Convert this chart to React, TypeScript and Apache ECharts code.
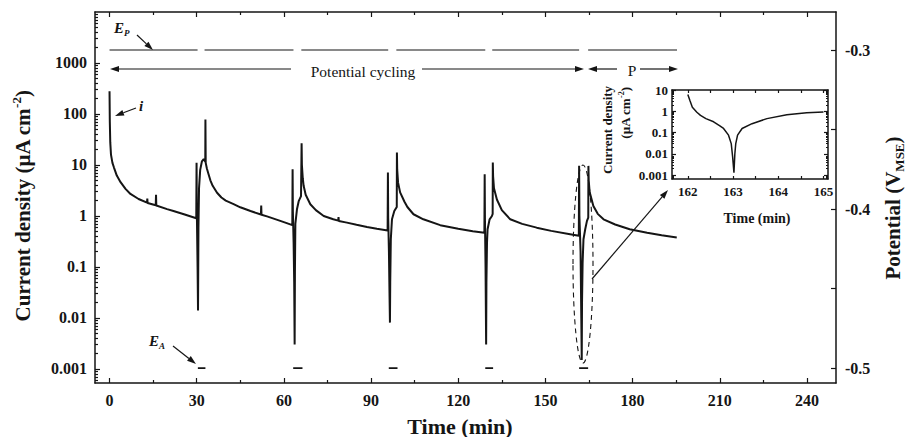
import React, { useEffect, useRef } from 'react';
import * as echarts from 'echarts';

// ---------- data ----------
const mainTime = [
  0.0, 0.1, 0.25, 0.5, 1.0, 1.5, 2.5, 3.8, 5.5, 7.2, 10.0, 12.9, 13.0, 13.1, 15.9, 16.0, 16.1,
  19.8, 22.0, 25.6, 29.85, 29.95, 30.05, 30.3, 30.45, 30.6, 30.8, 31.2, 31.8, 32.4, 32.8, 32.95,
  33.0, 33.1, 33.5, 34.0, 34.7, 35.5, 37.0, 38.5, 40.0, 42.7, 45.0, 48.5, 52.1, 52.2, 52.3, 54.2,
  58.0, 60.5, 62.9,
  63.0, 63.1, 63.35, 63.55, 63.7, 63.8, 63.95, 64.5, 65.1, 65.9, 66.05, 66.1, 66.2, 66.5, 66.8,
  67.5, 69.1, 71.0, 73.7, 77.0, 78.7, 78.8, 78.9, 81.7, 85.0, 88.6, 92.0, 95.7,
  95.8, 95.9, 96.15, 96.35, 96.5, 96.6, 96.8, 97.2, 98.0, 98.85, 98.9, 99.0, 99.3, 100.0, 101.5,
  102.5, 104.6, 108.0, 113.8, 120.0, 125.0, 129.0,
  129.1, 129.2, 129.4, 129.6, 129.7, 129.9, 130.1, 130.8, 131.6, 131.85, 131.9, 132.0, 132.3,
  133.3, 135.0, 137.9, 142.0, 147.0, 152.0, 158.5, 161.5,
  161.6, 161.7, 162.1, 162.35, 162.5, 162.6, 162.8, 163.1, 163.7, 164.3, 164.75, 164.8, 164.9,
  165.2, 166.5, 168.0, 170.0, 174.0, 179.0, 185.0, 190.0, 195.2,
];
const mainCurrent = [
  280, 70, 28, 16, 11, 9.0, 6.2, 4.6, 3.4, 2.7, 2.15, 1.82, 2.2, 1.8, 1.62, 2.6, 1.6,
  1.36, 1.25, 1.08, 0.9, 11, 1.2, 0.1, 0.014, 0.6, 3.5, 8, 11.8, 13, 12, 11.5,
  78, 11, 8.5, 6.8, 5.0, 3.9, 2.85, 2.3, 2.0, 1.7, 1.48, 1.25, 1.07, 1.6, 1.06, 0.98,
  0.83, 0.74, 0.66,
  8.2, 1.2, 0.3, 0.05, 0.003, 0.08, 0.7, 1.35, 1.95, 2.45, 2.5, 26.7, 10, 5.5, 3.9,
  2.6, 1.7, 1.3, 1.0, 0.86, 0.81, 0.95, 0.8, 0.74, 0.67, 0.61, 0.56, 0.52,
  7.1, 0.9, 0.2, 0.03, 0.0081, 0.05, 0.35, 0.86, 1.25, 1.5, 17.5, 8, 4.5, 2.9, 1.9,
  1.5, 1.08, 0.86, 0.66, 0.56, 0.5, 0.47,
  6.6, 0.8, 0.1, 0.003, 0.05, 0.3, 0.55, 0.86, 1.0, 1.1, 11.2, 6, 3.5,
  2.1, 1.3, 0.86, 0.7, 0.59, 0.51, 0.44, 0.41,
  9.6, 1.0, 0.2, 0.01, 0.0015, 0.02, 0.12, 0.35, 0.55, 0.8, 0.93, 9.6, 5,
  3, 1.57, 1.1, 0.86, 0.68, 0.55, 0.47, 0.42, 0.38,
];

const insetTime = [
  162.0, 162.05, 162.1, 162.2, 162.28, 162.4, 162.57, 162.7, 162.79, 162.9, 162.96, 162.99,
  163.02, 163.04, 163.06, 163.1, 163.2, 163.42, 163.75, 164.19, 164.63, 165.0,
];
const insetCurrent = [
  6.2, 3.0, 1.55, 0.9, 0.64, 0.45, 0.32, 0.21, 0.155, 0.075, 0.03, 0.0075,
  0.0013, 0.01, 0.03, 0.075, 0.155, 0.26, 0.45, 0.69, 0.85, 0.92,
];

// applied potential: E_P (passive) and E_A (active) steps
const epStart = [0, 32.7, 66.0, 98.7, 131.7, 164.7];
const epEnd = [30.3, 63.3, 95.9, 129.3, 161.6, 195.3];
const eaStart = [30.4, 63.2, 96.1, 129.3, 161.6];
const eaEnd = [33.0, 66.4, 99.1, 132.0, 164.7];
const epLevel = -0.3;
const eaLevel = -0.5;

// tick labels
const xMajor = [0, 30, 60, 90, 120, 150, 180, 210, 240];
const xMinor = [15, 45, 75, 105, 135, 165, 195, 225];
const yDecades = [0.001, 0.01, 0.1, 1, 10, 100, 1000];
const rightLabels = [-0.5, -0.4, -0.3];
const rightTicks = [-0.5, -0.45, -0.4, -0.35, -0.3];
const insetXLabels = [162, 163, 164, 165];
const insetXTicks = [162, 162.5, 163, 163.5, 164, 164.5, 165];
const insetYDecades = [0.001, 0.01, 0.1, 1, 10];

const FONT = "'Liberation Serif', 'Times New Roman', serif";
const INK = '#151515';

function minorLog(min: number, max: number): number[] {
  const out: number[] = [];
  for (let e = -5; e <= 5; e++) {
    for (let k = 2; k <= 9; k++) {
      const v = k * Math.pow(10, e);
      if (v > min && v < max) out.push(v);
    }
  }
  return out;
}

function fmtLog(v: number): string {
  const e = Math.round(Math.log10(v));
  return e >= 0 ? String(Math.pow(10, e)) : Math.pow(10, e).toFixed(-e);
}

function arrow(x1: number, y1: number, x2: number, y2: number, len = 9, half = 3): any[] {
  const dx = x2 - x1;
  const dy = y2 - y1;
  const d = Math.sqrt(dx * dx + dy * dy);
  const ux = dx / d;
  const uy = dy / d;
  const bx = x2 - ux * len;
  const by = y2 - uy * len;
  return [
    { type: 'line', shape: { x1, y1, x2: bx, y2: by }, style: { stroke: INK, lineWidth: 1.2 }, silent: true },
    {
      type: 'polygon',
      shape: { points: [[x2, y2], [bx - uy * half, by + ux * half], [bx + uy * half, by - ux * half]] },
      style: { fill: INK },
      silent: true,
    },
  ];
}

export default function App() {
  const ref = useRef<HTMLDivElement>(null);

  useEffect(() => {
    const chart = echarts.init(ref.current!, null, { renderer: 'svg' });
    const lbl = (size: number) => ({ color: INK, fontFamily: FONT, fontWeight: 'bold' as const, fontSize: size });
    const pairs = (xs: number[], ys: number[]) => xs.map((x, i) => [x, ys[i]]);
    const steps = (starts: number[], ends: number[], level: number) => {
      const d: any[] = [];
      starts.forEach((s, i) => {
        d.push([s, level], [ends[i], level], [ends[i], '-']);
      });
      return d;
    };
    const line = (show: boolean) => ({ show, onZero: false, lineStyle: { color: INK, width: 1.5 } });
    const tick = (vals: number[], len: number) => ({
      show: true, inside: true, length: len, customValues: vals, lineStyle: { color: INK, width: 1.2 },
    });
    const noLabel = { show: false };

    const mainYMin = 0.00053;
    const mainYMax = 10000;
    const insetYMin = 0.00065;
    const insetYMax = 10;

    const mainX = { type: 'value', gridIndex: 0, min: -5, max: 250, splitLine: { show: false } };
    const insetX = { type: 'value', gridIndex: 1, min: 161.65, max: 165.1, splitLine: { show: false } };
    const mainY = { type: 'log', logBase: 10, gridIndex: 0, min: mainYMin, max: mainYMax, splitLine: { show: false } };
    const insetY = { type: 'log', logBase: 10, gridIndex: 1, min: insetYMin, max: insetYMax, splitLine: { show: false } };

    const option: any = {
      animation: false,
      backgroundColor: '#ffffff',
      grid: [
        { left: 95, top: 12, width: 741, height: 371 },
        { left: 672, top: 90, width: 156, height: 89 },
      ],
      xAxis: [
        { ...mainX, position: 'bottom', axisLine: line(true), axisTick: tick(xMajor, 5),
          axisLabel: { show: true, customValues: xMajor, margin: 9, ...lbl(16) } },
        { ...mainX, position: 'bottom', axisLine: line(false), axisTick: tick(xMinor, 3), axisLabel: noLabel },
        { ...mainX, position: 'top', axisLine: line(true), axisTick: tick(xMajor, 5), axisLabel: noLabel },
        { ...mainX, position: 'top', axisLine: line(false), axisTick: tick(xMinor, 3), axisLabel: noLabel },
        { ...insetX, position: 'bottom', axisLine: line(true), axisTick: tick(insetXTicks, 3),
          axisLabel: { show: true, customValues: insetXLabels, margin: 6, ...lbl(13) } },
        { ...insetX, position: 'top', axisLine: line(true), axisTick: tick(insetXTicks, 3), axisLabel: noLabel },
      ],
      yAxis: [
        { ...mainY, position: 'left', axisLine: line(true), axisTick: tick(yDecades, 5),
          axisLabel: { show: true, customValues: yDecades, margin: 8, formatter: fmtLog, ...lbl(16) } },
        { ...mainY, position: 'left', axisLine: line(false), axisTick: tick(minorLog(mainYMin, mainYMax), 3), axisLabel: noLabel },
        { type: 'value', gridIndex: 0, min: -0.5094, max: -0.2761, position: 'right', splitLine: { show: false },
          axisLine: line(true), axisTick: tick(rightTicks, 5),
          axisLabel: { show: true, customValues: rightLabels, margin: 9, formatter: (v: number) => v.toFixed(1), ...lbl(16) } },
        { ...insetY, position: 'left', axisLine: line(true), axisTick: tick(insetYDecades, 4),
          axisLabel: { show: true, customValues: insetYDecades, margin: 4, formatter: fmtLog, ...lbl(13) } },
        { ...insetY, position: 'left', axisLine: line(false), axisTick: tick(minorLog(insetYMin, insetYMax), 2), axisLabel: noLabel },
        { ...insetY, position: 'right', axisLine: line(true), axisTick: tick(insetYDecades, 4), axisLabel: noLabel },
        { ...insetY, position: 'right', axisLine: line(false), axisTick: tick(minorLog(insetYMin, insetYMax), 2), axisLabel: noLabel },
      ],
      series: [
        {
          name: 'Current density', type: 'line', xAxisIndex: 0, yAxisIndex: 0, data: pairs(mainTime, mainCurrent),
          showSymbol: false, symbol: 'none', lineStyle: { color: INK, width: 2 }, z: 4,
        },
        {
          name: 'E_P', type: 'line', xAxisIndex: 0, yAxisIndex: 2, data: steps(epStart, epEnd, epLevel),
          showSymbol: false, symbol: 'none', connectNulls: false, lineStyle: { color: INK, width: 1.2 },
        },
        {
          name: 'E_A', type: 'line', xAxisIndex: 0, yAxisIndex: 2, data: steps(eaStart, eaEnd, eaLevel),
          showSymbol: false, symbol: 'none', connectNulls: false, lineStyle: { color: INK, width: 1.8 },
        },
        {
          name: 'Inset', type: 'line', xAxisIndex: 4, yAxisIndex: 3, data: pairs(insetTime, insetCurrent),
          showSymbol: false, symbol: 'none', lineStyle: { color: INK, width: 1.5 }, z: 4,
        },
      ],
    };

    const t = (x: number, y: number, text: string, font: string, extra: any = {}) => ({
      type: 'text', x, y, silent: true, ...extra,
      style: { text, font, fill: INK, align: 'center', verticalAlign: 'middle', ...(extra.style || {}) },
    });
    const bold = (s: number) => `bold ${s}px ${FONT}`;

    option.graphic = [
      // axis titles
      {
        type: 'text', x: 23, y: 206, rotation: Math.PI / 2, silent: true,
        style: {
          text: '{a|Current density (µA cm}{s|-2}{a|)}', align: 'center', verticalAlign: 'middle', fill: INK,
          rich: {
            a: { fontFamily: FONT, fontWeight: 'bold', fontSize: 21, lineHeight: 26, fill: INK },
            s: { fontFamily: FONT, fontWeight: 'bold', fontSize: 13, verticalAlign: 'top', fill: INK },
          },
        },
      },
      {
        type: 'text', x: 893, y: 208, rotation: Math.PI / 2, silent: true,
        style: {
          text: '{a|Potential (V}{s|MSE}{a|)}', align: 'center', verticalAlign: 'middle', fill: INK,
          rich: {
            a: { fontFamily: FONT, fontWeight: 'bold', fontSize: 21, lineHeight: 26, fill: INK },
            s: { fontFamily: FONT, fontWeight: 'bold', fontSize: 13, verticalAlign: 'bottom', fill: INK },
          },
        },
      },
      t(460, 426, 'Time (min)', bold(22)),
      // inset titles
      t(607, 130, 'Current density', bold(13), { rotation: Math.PI / 2 }),
      {
        type: 'text', x: 625, y: 113, rotation: Math.PI / 2, silent: true,
        style: {
          text: '{a|(µA cm}{s|-2}{a|)}', align: 'center', verticalAlign: 'middle', fill: INK,
          rich: {
            a: { fontFamily: FONT, fontWeight: 'bold', fontSize: 13, lineHeight: 16, fill: INK },
            s: { fontFamily: FONT, fontWeight: 'bold', fontSize: 8, verticalAlign: 'top', fill: INK },
          },
        },
      },
      t(757, 218, 'Time (min)', bold(14)),
      // annotations
      t(363, 71, 'Potential cycling', `15.5px ${FONT}`),
      t(632, 70, 'P', `15.5px ${FONT}`),
      {
        type: 'text', x: 114, y: 28, silent: true,
        style: {
          text: '{e|E}{s|P}', align: 'left', verticalAlign: 'middle', fill: INK,
          rich: {
            e: { fontFamily: FONT, fontWeight: 'bold', fontStyle: 'italic', fontSize: 15, lineHeight: 18, fill: INK },
            s: { fontFamily: FONT, fontWeight: 'bold', fontStyle: 'italic', fontSize: 9, verticalAlign: 'bottom', fill: INK },
          },
        },
      },
      {
        type: 'text', x: 149, y: 341, silent: true,
        style: {
          text: '{e|E}{s|A}', align: 'left', verticalAlign: 'middle', fill: INK,
          rich: {
            e: { fontFamily: FONT, fontWeight: 'bold', fontStyle: 'italic', fontSize: 15, lineHeight: 18, fill: INK },
            s: { fontFamily: FONT, fontWeight: 'bold', fontStyle: 'italic', fontSize: 9, verticalAlign: 'bottom', fill: INK },
          },
        },
      },
      t(141, 106, 'i', `bold italic 15px ${FONT}`),
      ...arrow(137, 35, 153, 50),
      ...arrow(136, 108, 115, 116),
      ...arrow(173, 346, 196, 364),
      ...arrow(291, 69, 110, 69),
      ...arrow(422, 69, 584, 69),
      ...arrow(617, 69, 588, 69),
      ...arrow(640, 69, 678, 69),
      ...arrow(592, 279, 668, 190),
      {
        type: 'ellipse', silent: true, shape: { cx: 583, cy: 264, rx: 10, ry: 99 },
        style: { fill: 'none', stroke: INK, lineWidth: 1.1, lineDash: [5, 4] },
      },
    ];

    chart.setOption(option);
    return () => chart.dispose();
  }, []);

  return (
    <div
      ref={ref}
      style={{ position: 'absolute', left: 0, top: 0, width: 913, height: 437, background: '#ffffff' }}
    />
  );
}
